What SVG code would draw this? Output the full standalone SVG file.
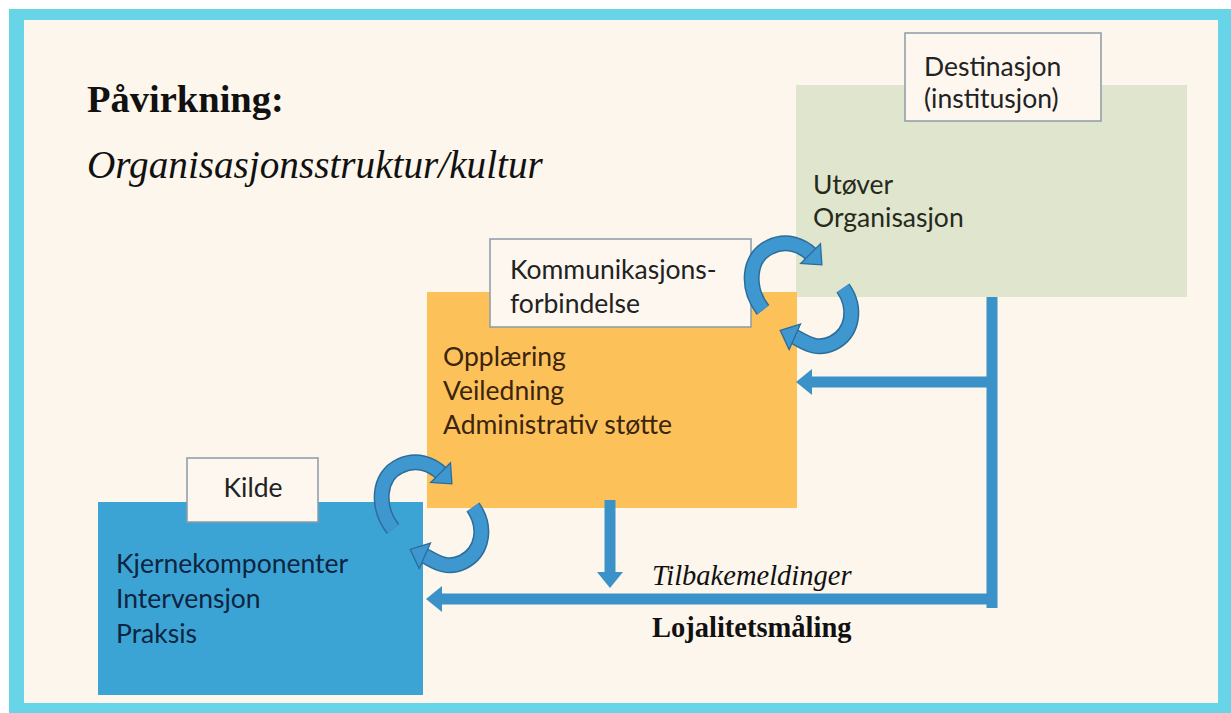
<svg xmlns="http://www.w3.org/2000/svg" width="1231" height="713" viewBox="0 0 1231 713">
<defs>
<style>
.lbl{fill:#fdf7ef;stroke:#8d9aa6;stroke-width:1.5}
.sans{font-family:Lato,"Open Sans","Liberation Sans",sans-serif;font-size:26.5px}
.serif{font-family:"Liberation Serif","Times New Roman",serif}
.conn{fill:none;stroke:#3b92c8;stroke-width:11}
.cu1{fill:none;stroke:#2c6d9c;stroke-width:16}
.cu2{fill:none;stroke:#3e98cf;stroke-width:13;marker-end:url(#chead)}
</style>
<marker id="head" markerUnits="userSpaceOnUse" markerWidth="16" markerHeight="26" viewBox="0 0 16 26" refX="1" refY="13" orient="auto">
<path d="M0,0 L16,13 L0,26 z" fill="#3b92c8"/>
</marker>
<marker id="chead" markerUnits="userSpaceOnUse" markerWidth="19" markerHeight="30" viewBox="-1 -1 19 30" refX="2" refY="14" orient="auto">
<path d="M0,0 L16,14 L0,28 z" fill="#3e98cf" stroke="#2c6d9c" stroke-width="1.3"/>
</marker>
<g id="swirl">
<path class="cu1" d="M763,310 C746,288 748,257 770,247 C786,239 802,245 812,255"/>
<path class="cu2" d="M763,310 C746,288 748,257 770,247 C786,239 802,245 812,255"/>
<path class="cu1" d="M843,288 C857,308 853,333 833,343 C815,352 802,340 793,336"/>
<path class="cu2" d="M843,288 C857,308 853,333 833,343 C815,352 802,340 793,336"/>
</g>
</defs>
<rect x="0" y="0" width="1231" height="713" fill="#ffffff"/>
<rect x="9" y="9" width="1222" height="704" fill="#67d4e8"/>
<rect x="24" y="20" width="1194" height="683" fill="#fdf6ec"/>

<g id="title">
<text class="serif" x="87" y="112" font-size="38.5" font-weight="bold" fill="#111">Påvirkning:</text>
<text class="serif" x="87" y="178" font-size="39.2" font-style="italic" fill="#111">Organisasjonsstruktur/kultur</text>
</g>

<g id="destinasjon">
<rect x="796" y="85" width="391" height="212" fill="#dfe6cd"/>
<text class="sans" x="813" y="194" fill="#262a1c">Utøver</text>
<text class="sans" x="813" y="227" fill="#262a1c">Organisasjon</text>
<rect class="lbl" x="905" y="33" width="196" height="88"/>
<text class="sans" x="924" y="76" fill="#222">Destinasjon</text>
<text class="sans" x="924" y="108" fill="#222">(institusjon)</text>
</g>

<g id="kommunikasjon">
<rect x="427" y="292" width="370" height="216" fill="#fcc259"/>
<text class="sans" x="443" y="366" fill="#3b2410">Opplæring</text>
<text class="sans" x="443" y="400" fill="#3b2410">Veiledning</text>
<text class="sans" x="443" y="434" fill="#3b2410">Administrativ støtte</text>
<rect class="lbl" x="490" y="239" width="261" height="88"/>
<text class="sans" x="510" y="279" fill="#222">Kommunikasjons-</text>
<text class="sans" x="510" y="313" fill="#222">forbindelse</text>
</g>

<g id="kilde">
<rect x="98" y="502" width="325" height="193" fill="#3ca4d5"/>
<text class="sans" x="116" y="573" fill="#0d2540">Kjernekomponenter</text>
<text class="sans" x="116" y="608" fill="#0d2540">Intervensjon</text>
<text class="sans" x="116" y="643" fill="#0d2540">Praksis</text>
<rect class="lbl" x="187" y="458" width="131" height="64"/>
<text class="sans" x="253" y="497" text-anchor="middle" fill="#222">Kilde</text>
</g>

<g id="connectors">
<line class="conn" x1="992" y1="297" x2="992" y2="608" stroke-width="10"/>
<line class="conn" x1="992" y1="382" x2="811" y2="382" marker-end="url(#head)"/>
<line class="conn" x1="997" y1="599" x2="441" y2="599" marker-end="url(#head)"/>
<line class="conn" x1="610" y1="500" x2="610" y2="573" stroke-width="12" marker-end="url(#head)"/>
<use href="#swirl"/>
<use href="#swirl" transform="translate(-370,219)"/>
</g>

<g id="labels">
<text class="serif" x="652" y="585" font-size="28.5" font-style="italic" fill="#111">Tilbakemeldinger</text>
<text class="serif" x="652" y="637" font-size="28.5" font-weight="bold" fill="#111">Lojalitetsmåling</text>
</g>
</svg>
